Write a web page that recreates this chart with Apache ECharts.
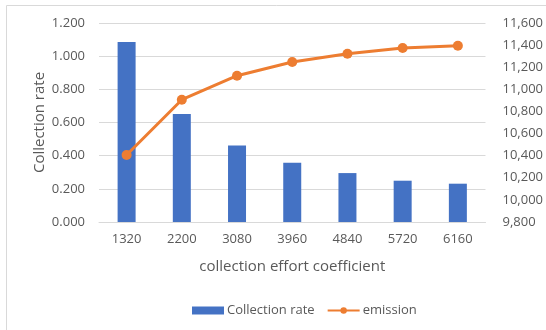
<!DOCTYPE html>
<html><head><meta charset="utf-8">
<script src="https://cdn.jsdelivr.net/npm/echarts@6/dist/echarts.min.js"></script>
<style>html,body{margin:0;padding:0;background:#fff}#c{width:546px;height:330px}</style>
</head><body><div id="c"></div>
<script>
var categories = ['1320','2200','3080','3960','4840','5720','6160'];
var collectionRate = [1.085, 0.651, 0.462, 0.358, 0.295, 0.249, 0.231];
var emission = [10406, 10906, 11123, 11247, 11322, 11374, 11395];
var leftTicks = {min: 0, max: 1.2, interval: 0.2};
var rightTicks = {min: 9800, max: 11600, interval: 200};

var font = 'Open Sans';
var txt = '#595959';
var chart = echarts.init(document.getElementById('c'));
chart.setOption({
  animation: false,
  textStyle: {fontFamily: font},
  graphic: [{type: 'rect', shape: {x: 6.5, y: 5.5, width: 560, height: 340}, style: {fill: 'none', stroke: '#D9D9D9', lineWidth: 1}, silent: true}],
  grid: {left: 99, right: 58, top: 23, bottom: 108},
  legend: {
    top: 299, left: 187, itemGap: 12, itemWidth: 32, itemHeight: 8,
    textStyle: {color: txt, fontSize: 13, fontFamily: font, padding: [0,0,0,-2]},
    data: [{name: 'Collection rate', icon: 'rect'}, {name: 'emission'}]
  },
  xAxis: {
    type: 'category', data: categories,
    name: 'collection effort coefficient', nameLocation: 'middle', nameGap: 37,
    nameTextStyle: {color: txt, fontSize: 15, fontFamily: font},
    axisLine: {lineStyle: {color: '#D9D9D9'}}, axisTick: {show: false},
    axisLabel: {color: txt, fontSize: 13, margin: 11, fontFamily: font}
  },
  yAxis: [{
    type: 'value', min: leftTicks.min, max: leftTicks.max, interval: leftTicks.interval,
    name: 'Collection rate', nameLocation: 'middle', nameGap: 52, nameRotate: 90,
    nameMoveOverlap: false,
    nameTextStyle: {color: txt, fontSize: 15, fontFamily: font},
    axisLabel: {color: txt, fontSize: 13, margin: 14, fontFamily: font, formatter: function(v){return v.toFixed(3);}},
    splitLine: {lineStyle: {color: '#D9D9D9'}}, axisLine: {show: false}, axisTick: {show: false}
  }, {
    type: 'value', min: rightTicks.min, max: rightTicks.max, interval: rightTicks.interval,
    position: 'right',
    axisLabel: {color: txt, fontSize: 13, margin: 17, fontFamily: font, formatter: function(v){return v.toLocaleString('en-US');}},
    splitLine: {show: false}, axisLine: {show: false}, axisTick: {show: false}
  }],
  series: [{
    name: 'Collection rate', type: 'bar', data: collectionRate, barWidth: 18,
    itemStyle: {color: '#4472C4'}
  }, {
    name: 'emission', type: 'line', yAxisIndex: 1, data: emission,
    symbol: 'circle', symbolSize: 10,
    lineStyle: {color: '#ED7D31', width: 3}, itemStyle: {color: '#ED7D31'}
  }]
});
</script></body></html>
